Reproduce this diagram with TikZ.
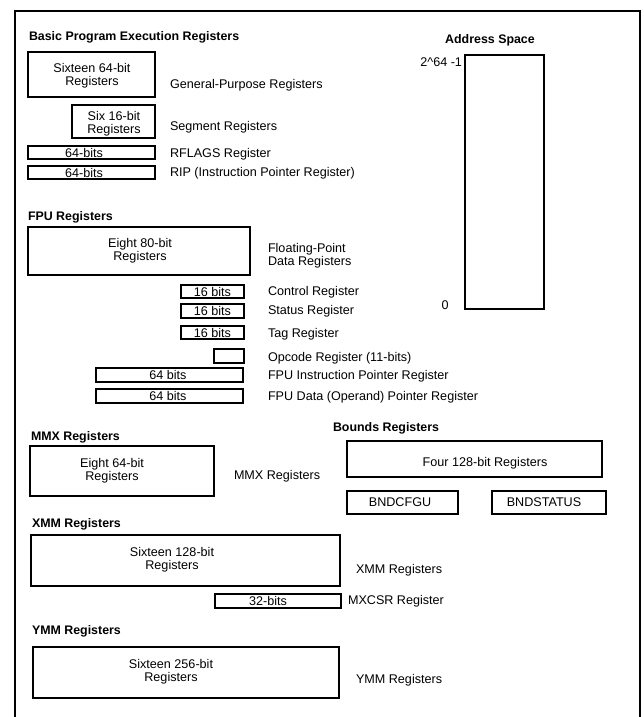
\documentclass[tikz,border=0pt]{standalone}
\usepackage{fontspec}
\setmainfont{Liberation Sans}
\begin{document}
\begin{tikzpicture}[x=1pt,y=-1pt,
  every node/.style={inner sep=0pt, outer sep=0pt, font=\fontsize{12.6}{12.5}\selectfont},
  reg/.style={draw, line width=1.3pt, anchor=north west},
  head/.style={anchor=base west, font=\fontsize{12.4}{12.5}\selectfont\bfseries},
  lbl/.style={anchor=base west},
  btxt/.style={anchor=base},
  btwo/.style={align=center, anchor=center},
  frame/.style={line width=1.4pt}]
\useasboundingbox (0,0) rectangle (643,717);
% outer frame (open at the bottom)
\coordinate (fbl) at (15,717);
\coordinate (ftl) at (15,11);
\coordinate (ftr) at (640,11);
\coordinate (fbr) at (640,717);
\draw[frame] (fbl) -- (ftl) -- (ftr) -- (fbr);

% ---- Basic program execution registers
\node[head] (hbasic) at (29,40.5) {Basic Program Execution Registers};
\node[reg, minimum width=127, minimum height=45] (gpr) at (28,52) {};
\node[btwo] (gprt) at (92,75.5) {Sixteen 64-bit\\Registers};
\node[lbl] (gprl) at (170,88.5) {General-Purpose Registers};
\node[reg, minimum width=83, minimum height=33] (seg) at (72,105) {};
\node[btwo] (segt) at (114,123.5) {Six 16-bit\\Registers};
\node[lbl] (segl) at (170,130.5) {Segment Registers};
\node[reg, minimum width=127, minimum height=13] (rfl) at (28,146) {};
\node[btxt] (rflt) at (84,157) {64-bits};
\node[lbl] (rfll) at (170,157.5) {RFLAGS Register};
\node[reg, minimum width=127, minimum height=13] (rip) at (28,166) {};
\node[btxt] (ript) at (84,177) {64-bits};
\node[lbl] (ripl) at (170,176.5) {RIP (Instruction Pointer Register)};

% ---- Address space
\node[anchor=base, font=\fontsize{12.4}{12.5}\selectfont\bfseries] (haddr) at (490,43.5) {Address Space};
\node[reg, minimum width=79, minimum height=254] (addr) at (465,55) {};
\node[anchor=base east] (atop) at (462,66.5) {2\^{}64 -1};
\node[anchor=base] (abot) at (445,309.5) {0};

% ---- FPU registers
\node[head] (hfpu) at (28,220.5) {FPU Registers};
\node[reg, minimum width=222, minimum height=48] (fpr) at (28,227) {};
\node[btwo] (fprt) at (140,250.5) {Eight 80-bit\\Registers};
\node[anchor=west, align=left] (fprl) at (268,255.5) {Floating-Point\\Data Registers};
\node[reg, minimum width=63, minimum height=13] (ctrl) at (181,285) {};
\node[btxt] (ctrlt) at (212.5,296) {16 bits};
\node[lbl] (ctrll) at (268,295.5) {Control Register};
\node[reg, minimum width=63, minimum height=14] (stat) at (181,304) {};
\node[btxt] (statt) at (212.5,315.5) {16 bits};
\node[lbl] (statl) at (268,314.5) {Status Register};
\node[reg, minimum width=63, minimum height=13] (tag) at (181,326) {};
\node[btxt] (tagt) at (212.5,337) {16 bits};
\node[lbl] (tagl) at (268,337.5) {Tag Register};
\node[reg, minimum width=30, minimum height=14] (opc) at (214,349) {};
\node[lbl] (opcl) at (268,361) {Opcode Register (11-bits)};
\node[reg, minimum width=147, minimum height=14] (fip) at (96,368) {};
\node[btxt] (fipt) at (168,379.5) {64 bits};
\node[lbl] (fipl) at (268,379.5) {FPU Instruction Pointer Register};
\node[reg, minimum width=147, minimum height=14] (fdp) at (96,389) {};
\node[btxt] (fdpt) at (168,400.5) {64 bits};
\node[lbl] (fdpl) at (268,400.5) {FPU Data (Operand) Pointer Register};

% ---- MMX registers
\node[head] (hmmx) at (31,440.5) {MMX Registers};
\node[reg, minimum width=184, minimum height=50] (mmx) at (30,446) {};
\node[btwo] (mmxt) at (112,470.5) {Eight 64-bit\\Registers};
\node[lbl] (mmxl) at (234,479.5) {MMX Registers};

% ---- Bounds registers
\node[head] (hbnd) at (333,431.5) {Bounds Registers};
\node[reg, minimum width=255, minimum height=36] (bnd) at (347,441) {};
\node[btxt] (bndt) at (485,466.5) {Four 128-bit Registers};
\node[reg, minimum width=111, minimum height=23] (cfg) at (347,491) {};
\node[btxt] (cfgt) at (400,506.5) {BNDCFGU};
\node[reg, minimum width=114, minimum height=23] (bst) at (492,491) {};
\node[btxt] (bstt) at (544,506.5) {BNDSTATUS};

% ---- XMM registers
\node[head] (hxmm) at (32,527.5) {XMM Registers};
\node[reg, minimum width=309, minimum height=51] (xmm) at (31,535) {};
\node[btwo] (xmmt) at (172,559.5) {Sixteen 128-bit\\Registers};
\node[lbl] (xmml) at (356,573.5) {XMM Registers};
\node[reg, minimum width=126, minimum height=14] (mxc) at (215,594) {};
\node[btxt] (mxct) at (268,605.5) {32-bits};
\node[lbl] (mxcl) at (348,604.5) {MXCSR Register};

% ---- YMM registers
\node[head] (hymm) at (32,634.5) {YMM Registers};
\node[reg, minimum width=306, minimum height=51] (ymm) at (33,647) {};
\node[btwo] (ymmt) at (171,671.5) {Sixteen 256-bit\\Registers};
\node[lbl] (ymml) at (356,683.5) {YMM Registers};
\end{tikzpicture}
\end{document}
